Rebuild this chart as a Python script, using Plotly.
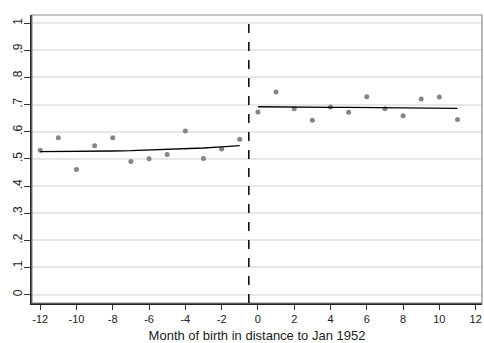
import plotly.graph_objects as go

months_left = [-12, -11, -10, -9, -8, -7, -6, -5, -4, -3, -2, -1]
share_left = [0.532, 0.578, 0.461, 0.548, 0.578, 0.490, 0.500, 0.516, 0.603, 0.501, 0.536, 0.572]
fit_left = [0.527, 0.527, 0.527, 0.528, 0.529, 0.530, 0.532, 0.534, 0.537, 0.540, 0.544, 0.549]

months_right = [0, 1, 2, 3, 4, 5, 6, 7, 8, 9, 10, 11]
share_right = [0.673, 0.746, 0.685, 0.642, 0.691, 0.672, 0.729, 0.685, 0.659, 0.721, 0.728, 0.645]
fit_right = [0.692, 0.691, 0.691, 0.690, 0.690, 0.690, 0.689, 0.689, 0.689, 0.688, 0.687, 0.686]

x_ticks = [-12, -10, -8, -6, -4, -2, 0, 2, 4, 6, 8, 10, 12]
y_ticks = [0, 0.1, 0.2, 0.3, 0.4, 0.5, 0.6, 0.7, 0.8, 0.9, 1.0]
y_labels = ["0", ".1", ".2", ".3", ".4", ".5", ".6", ".7", ".8", ".9", "1"]
cutoff = -0.5

fig = go.Figure()
marker = dict(color="#858585", size=5)
fig.add_trace(go.Scatter(x=months_left, y=share_left, mode="markers", marker=marker, showlegend=False))
fig.add_trace(go.Scatter(x=months_right, y=share_right, mode="markers", marker=marker, showlegend=False))
fig.add_trace(go.Scatter(x=months_left, y=fit_left, mode="lines", line=dict(color="black", width=1.3), showlegend=False))
fig.add_trace(go.Scatter(x=months_right, y=fit_right, mode="lines", line=dict(color="black", width=1.3), showlegend=False))

fig.add_shape(type="rect", xref="paper", yref="paper", x0=0, x1=1, y0=0, y1=1,
              line=dict(color="#8c8c8c", width=1.2), layer="above")
fig.add_shape(type="line", xref="x", yref="paper", x0=cutoff, x1=cutoff, y0=0, y1=1,
              line=dict(color="black", width=1.5, dash="dash"), layer="above")

fig.update_layout(
    width=484, height=343,
    margin=dict(l=32, r=2, t=15, b=40),
    paper_bgcolor="white", plot_bgcolor="white",
    font=dict(family="Liberation Sans, Arial, sans-serif", color="#222222"),
)
fig.update_xaxes(
    range=[-12.45, 12.35], tickvals=x_ticks, ticktext=[str(v) for v in x_ticks],
    ticks="outside", ticklen=5, tickcolor="#333333", tickfont=dict(size=11),
    showgrid=False, zeroline=False, showline=True, linecolor="#222222", linewidth=1.5,
    automargin=False,
    title=dict(text="Month of birth in distance to Jan 1952", font=dict(size=13)),
)
fig.update_yaxes(
    range=[-0.031, 1.03], tickvals=y_ticks, ticktext=y_labels, tickangle=-90,
    ticks="outside", ticklen=6, tickcolor="#333333", tickfont=dict(size=12),
    ticklabelstandoff=-3,
    showgrid=True, gridcolor="#e6e6e6", gridwidth=1.5, zeroline=False,
    showline=True, linecolor="#222222", linewidth=1.5, automargin=False,
)

post = ("document.body.style.margin='0';document.body.style.overflow='hidden';"
        "var gd=document.getElementById('{plot_id}');"
        "Plotly.relayout(gd,{width:484,height:343});")
fig.write_html("out.html", config={"responsive": False, "displayModeBar": False}, post_script=post)
